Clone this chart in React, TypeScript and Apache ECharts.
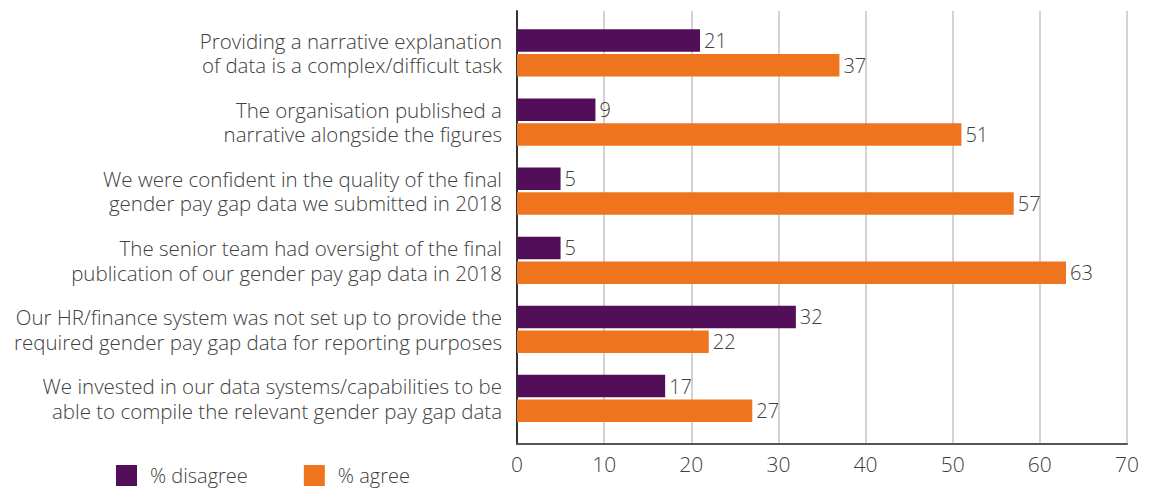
import React, { useEffect, useRef } from "react";
import * as echarts from "echarts";

const categories = [
  "Providing a narrative explanation\nof data is a complex/difficult task",
  "The organisation published a\nnarrative alongside the figures",
  "We were confident in the quality of the final\ngender pay gap data we submitted in 2018",
  "The senior team had oversight of the final\npublication of our gender pay gap data in 2018",
  "Our HR/finance system was not set up to provide the\nrequired gender pay gap data for reporting purposes",
  "We invested in our data systems/capabilities to be\nable to compile the relevant gender pay gap data",
];
const disagree = [21, 9, 5, 5, 32, 17];
const agree = [37, 51, 57, 63, 22, 27];
const seriesNames = ["% disagree", "% agree"];
const xTicksMax = 70;
const xTickStep = 10;

const PURPLE = "#530e5a";
const ORANGE = "#ee741e";
const TEXT = "#404040";
const FONT = "Open Sans";
const W = 300;

export default function App() {
  const ref = useRef<HTMLDivElement>(null);
  useEffect(() => {
    if (!ref.current) return;
    const chart = echarts.init(ref.current, undefined, { renderer: "svg" });
    const labelStyle = {
      show: true,
      position: "right" as const,
      distance: 4,
      fontSize: 20,
      fontWeight: W,
      color: TEXT,
      fontFamily: FONT,
    };
    chart.setOption({
      animation: false,
      textStyle: { fontFamily: FONT },
      legend: {
        left: 108,
        top: 457,
        padding: 0,
        itemWidth: 21,
        itemHeight: 21,
        itemGap: 56,
        icon: "rect",
        data: seriesNames,
        textStyle: { fontSize: 20, fontWeight: W, color: TEXT, fontFamily: FONT, padding: [0, 0, 0, 8] },
      },
      grid: [
        { left: 509, top: 3, width: 610, height: 433 },
        { left: 509, top: 10.4, width: 610, height: 414.6 },
      ],
      xAxis: [
        {
          gridIndex: 0,
          type: "value",
          min: 0,
          max: xTicksMax,
          interval: xTickStep,
          axisLine: { show: true, lineStyle: { color: "#555555", width: 2 } },
          axisTick: { show: false },
          splitLine: { show: true, lineStyle: { color: "#d3d3d3", width: 2 } },
          axisLabel: { fontSize: 21, fontWeight: W, color: TEXT, fontFamily: FONT, margin: 9 },
        },
        {
          gridIndex: 1,
          type: "value",
          min: 0,
          max: xTicksMax,
          show: false,
        },
      ],
      yAxis: [
        {
          gridIndex: 0,
          type: "value",
          min: 0,
          max: 1,
          axisLine: { show: true, lineStyle: { color: "#333333", width: 2 } },
          axisTick: { show: false },
          axisLabel: { show: false },
          splitLine: { show: false },
        },
        {
          gridIndex: 1,
          type: "category",
          inverse: true,
          data: categories,
          axisLine: { show: false },
          axisTick: { show: false },
          axisLabel: {
            fontSize: 20.5,
            fontWeight: W,
            color: TEXT,
            fontFamily: FONT,
            lineHeight: 24.6,
            margin: 15,
            align: "right",
          },
        },
      ],
      series: [
        {
          name: seriesNames[0],
          type: "bar",
          xAxisIndex: 1,
          yAxisIndex: 1,
          data: disagree,
          barWidth: 22.5,
          barGap: "10%",
          itemStyle: { color: PURPLE },
          label: labelStyle,
        },
        {
          name: seriesNames[1],
          type: "bar",
          xAxisIndex: 1,
          yAxisIndex: 1,
          data: agree,
          barWidth: 22.5,
          barGap: "10%",
          itemStyle: { color: ORANGE },
          label: labelStyle,
        },
      ],
    });
    return () => chart.dispose();
  }, []);
  return <div ref={ref} style={{ width: 1138, height: 480 }} />;
}
